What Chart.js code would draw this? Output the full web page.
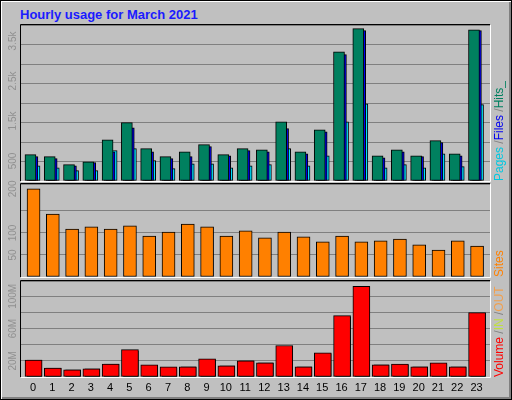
<!DOCTYPE html>
<html>
<head>
<meta charset="utf-8">
<script src="https://cdn.jsdelivr.net/npm/chart.js@4"></script>
<style>
body { margin: 0; background: #fff; }
#frame { position: absolute; left: 0; top: 0; width: 510px; height: 398px; background: #C0C0C0;
  border-top: 1px solid #000; border-left: 1px solid #000; border-right: 1px solid #000; border-bottom: 1px solid #000;
  box-shadow: inset 1px 1px 0 #fff, inset -2px -2px 0 #808080; }
#title { position: absolute; left: 20px; top: 7px; font: bold 13px "Liberation Sans", Arial, sans-serif; color: #1a1aff; }
canvas { position: absolute; left: 0; }
</style>
</head>
<body>
<div id="frame"></div>
<div id="title">Hourly usage for March 2021</div>
<canvas id="c1" width="512" height="165" style="top:20px"></canvas>
<canvas id="c2" width="512" height="100" style="top:180px"></canvas>
<canvas id="c3" width="512" height="120" style="top:277px"></canvas>
<script>
const hours = [0,1,2,3,4,5,6,7,8,9,10,11,12,13,14,15,16,17,18,19,20,21,22,23];
const hits  = [660,610,410,480,1030,1460,810,610,730,910,660,810,780,1480,730,1280,3230,3810,630,780,630,1010,680,3780];
const files = [610,560,380,460,730,1330,730,560,610,860,630,760,730,1310,680,1230,3160,3760,580,730,610,960,630,3760];
const pages = [380,330,260,260,760,810,510,310,430,430,330,380,410,810,380,630,1480,1930,330,410,330,680,360,1910];
const sites = [200,143,109,114,109,116,93,102,120,114,93,105,89,102,91,80,93,80,82,86,73,61,82,70];
const volumeM = [21,11,9,10,16,34,15,12.5,12.5,22.5,14,20,17.5,39,12.5,30,76,112.5,15,16,12.5,17.5,12.5,80];
const outM    = [21,11,9,10,16,32,14,11,12.5,21,14,20,17.5,35,12.5,29,74,111,15,15,12.5,16,12.5,79];
const ticks1 = [[500,'500'],[1500,'1.5k'],[2500,'2.5k'],[3500,'3.5k']];
const ticks2 = [[50,'50'],[100,'100'],[200,'200']];
const ticks3 = [[20,'20M'],[60,'60M'],[100,'100M']];

const FONT = '"Liberation Sans", Arial, sans-serif';

function pts(vals, off){
    return vals.map((v, i) => ({x: hours[i] + off, y: v}));
}

function bars(label, vals, off, color, w){
    return { label: label, data: pts(vals, off), backgroundColor: color, borderColor: '#000',
             borderWidth: 1, barThickness: w, borderSkipped: false, grouped: false };
}

function panelPlugin(yTicks, rightParts, showHours){
    return {
        id: 'panel',
        afterDraw(chart){
            const c = chart.ctx, a = chart.chartArea, y = chart.scales.y;
            c.save();
            // frame
            c.lineWidth = 1;
            c.strokeStyle = '#000';
            c.beginPath(); c.moveTo(a.left - 0.5, a.bottom); c.lineTo(a.left - 0.5, a.top - 0.5); c.lineTo(a.right, a.top - 0.5); c.stroke();
            c.strokeStyle = '#fff';
            c.beginPath(); c.moveTo(a.left, a.bottom + 0.5); c.lineTo(a.right + 0.5, a.bottom + 0.5); c.lineTo(a.right + 0.5, a.top); c.stroke();
            // left tick labels
            c.fillStyle = '#909090';
            c.font = '10px ' + FONT;
            c.textAlign = 'center';
            c.textBaseline = 'middle';
            yTicks.forEach(t => {
                c.save();
                c.translate(13, y.getPixelForValue(t[0]));
                c.rotate(-Math.PI / 2);
                c.fillText(t[1], 0, 0);
                c.restore();
            });
            // right legend text
            c.save();
            c.translate(500, a.bottom);
            c.rotate(-Math.PI / 2);
            c.font = '12px ' + FONT;
            c.textAlign = 'left';
            let x = 0;
            rightParts.forEach(p => {
                c.fillStyle = p[1];
                c.fillText(p[0], x, 0);
                x += c.measureText(p[0]).width;
            });
            c.restore();
            if (showHours){
                c.fillStyle = '#000';
                c.font = '11px ' + FONT;
                hours.forEach(h => c.fillText(String(h), chart.scales.x.getPixelForValue(h), a.bottom + 11));
            }
            c.restore();
        }
    };
}

function makeChart(id, datasets, yMax, step, pad, yTicks, rightParts, showHours){
    return new Chart(document.getElementById(id), {
        type: 'bar',
        data: { datasets: datasets },
        options: {
            responsive: false,
            animation: false,
            layout: { padding: pad },
            plugins: { legend: { display: false }, tooltip: { enabled: false } },
            scales: {
                x: { type: 'linear', min: -0.62, max: 23.7, offset: false, display: false },
                y: { min: 0, max: yMax, ticks: { display: false, stepSize: step },
                     grid: { color: '#808080', drawTicks: false }, border: { display: false } }
            }
        },
        plugins: [panelPlugin(yTicks, rightParts, showHours)]
    });
}

makeChart('c1', [
    bars('Hits', hits, -0.13, '#00805F', 11),
    bars('Files', files, -0.03, '#0000F0', 11),
    bars('Pages', pages, 0.08, '#00E0FF', 11)
], 3900, 500, {left: 21, right: 22, top: 5, bottom: 4}, ticks1,
   [['Pages', '#00C8E0'], [' /', '#808080'], ['Files', '#0000F0'], [' /', '#808080'], ['Hits_', '#00805F']], false);

makeChart('c2', [
    bars('Sites', sites, 0.03, '#FF8000', 13)
], 211, 50, {left: 21, right: 22, top: 4, bottom: 3}, ticks2,
   [['Sites', '#FF8000']], false);

makeChart('c3', [
    bars('Volume', volumeM, 0.03, '#FF0000', 17),
    bars('OUT', outM, 0.08, '#F0A050', 15)
], 119, 20, {left: 21, right: 22, top: 4, bottom: 20}, ticks3,
   [['Volume', '#FF0000'], [' /', '#808080'], ['IN', '#C0E040'], [' /', '#808080'], ['OUT', '#F0A050']], true);
</script>
</body>
</html>
